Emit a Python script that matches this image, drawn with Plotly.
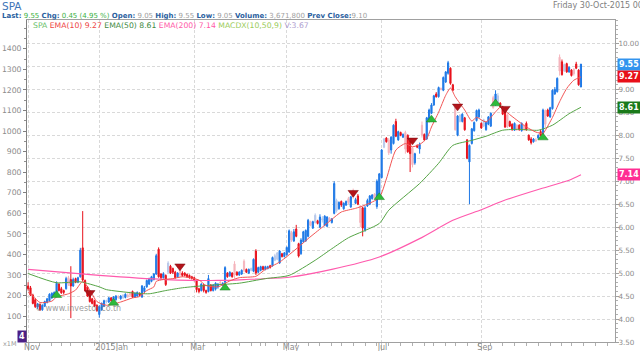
import pandas as pd
import plotly.graph_objects as go

# ---------------- calendar (SET trading days) ----------------
holidays = ["2014-12-05", "2014-12-10", "2014-12-31", "2015-01-01", "2015-01-02",
            "2015-03-04", "2015-04-06", "2015-04-13", "2015-04-14", "2015-04-15",
            "2015-05-01", "2015-05-05", "2015-06-01", "2015-07-30", "2015-08-12",
            "2015-10-23"]
trade_days = [d.strftime("%Y-%m-%d") for d in pd.bdate_range("2014-11-17", "2015-10-30")
              if d.strftime("%Y-%m-%d") not in holidays]

# ---------------- daily OHLC ----------------
opens = ([4.72, 4.68, 4.52, 4.42, 4.26, 4.32, 4.20, 4.28, 4.36, 4.40] +
         [4.46, 4.50, 4.50, 4.76, 4.66, 4.62, 4.66, 4.90, 4.86, 4.72, 4.88, 4.80, 4.92, 5.55, 4.84, 4.70, 4.52, 4.44, 4.40, 4.30] +
         [4.10, 4.20, 4.28, 4.38, 4.37, 4.46, 4.40, 4.42, 4.48, 4.44, 4.46, 4.47, 4.52, 4.56, 4.60, 4.48, 4.50, 4.56, 4.48, 4.60] +
         [4.70, 4.76, 4.82, 4.86, 4.98, 5.52, 4.98, 4.90, 4.95, 5.02, 5.15, 5.10, 5.02, 4.92, 5.12, 5.00, 5.00, 4.97, 4.95, 4.92] +
         [4.90, 4.84, 4.66, 4.62, 4.74, 4.62, 4.60, 4.74, 4.62, 4.65, 4.70, 4.80, 4.74, 4.80, 5.00, 4.94, 5.00, 5.20, 5.02, 4.96, 4.98] +
         [5.26, 5.08, 5.00, 5.06, 5.04, 5.48, 5.02, 5.06, 5.14, 5.08, 5.10, 5.16, 5.16, 5.28, 5.30, 5.22, 5.42, 5.36] +
         [5.40, 5.46, 5.88, 5.70, 5.96, 5.64, 5.42, 5.68, 5.70, 5.80, 6.12, 5.98, 6.10, 6.14, 6.00, 6.16, 6.04, 6.02, 6.20] +
         [6.10, 6.30, 6.36, 6.40, 6.56, 6.40, 6.48, 6.62, 6.44, 6.80, 6.52, 6.68, 6.46, 6.42, 5.94, 6.46, 6.50, 6.62, 6.72, 6.45, 6.68] +
         [7.08, 7.74, 7.94, 7.90, 7.68, 7.82, 8.30, 7.90, 8.06, 7.96, 8.06, 8.00, 7.88, 7.72, 7.40, 7.78, 7.70, 8.22, 8.02, 7.92, 8.30, 8.48] +
         [8.66, 8.90, 8.84, 9.02, 8.98, 9.16, 9.35, 9.46, 9.10, 8.66, 8.00, 8.30, 8.30, 8.38, 7.90, 7.42, 7.82, 8.10, 8.32, 8.40] +
         [8.26, 8.20, 8.12, 8.24, 8.20, 8.82, 8.66, 8.68, 8.70, 8.62, 8.60, 8.44, 8.30, 8.24, 8.11, 8.22, 8.22, 8.10, 8.20, 8.26, 8.00, 7.92] +
         [7.86, 7.90, 7.94, 8.08, 8.04, 8.54, 8.55, 8.40, 8.58, 8.90, 8.95, 9.70, 9.60, 9.40, 9.56, 9.38, 9.42, 9.44, 9.55, 9.42, 9.05])
highs = ([4.80, 4.72, 4.55, 4.46, 4.35, 4.34, 4.32, 4.40, 4.46, 4.56] +
         [4.58, 4.60, 4.82, 4.78, 4.70, 4.64, 4.92, 4.94, 5.15, 4.90, 4.90, 4.92, 5.55, 6.35, 4.86, 4.72, 4.55, 4.46, 4.42, 4.32] +
         [4.30, 4.36, 4.42, 4.42, 4.48, 4.48, 4.50, 4.52, 4.52, 4.52, 4.54, 4.56, 4.56, 4.60, 4.62, 4.58, 4.60, 4.58, 4.74, 4.72] +
         [4.86, 4.90, 4.94, 5.00, 5.42, 5.56, 5.00, 5.02, 4.97, 5.26, 5.18, 5.12, 5.05, 5.02, 5.18, 5.04, 5.02, 4.99, 4.97, 4.94] +
         [4.92, 4.86, 4.68, 4.78, 4.76, 4.64, 4.96, 4.76, 4.76, 4.80, 4.78, 4.84, 4.80, 5.15, 5.02, 5.04, 5.02, 5.26, 5.04, 5.04, 5.08] +
         [5.30, 5.10, 5.10, 5.12, 5.32, 5.52, 5.14, 5.16, 5.16, 5.16, 5.16, 5.18, 5.36, 5.42, 5.46, 5.50, 5.44, 5.46] +
         [5.58, 5.95, 5.92, 5.96, 6.05, 5.66, 5.76, 5.92, 5.95, 6.18, 6.14, 6.14, 6.30, 6.16, 6.28, 6.24, 6.26, 6.24, 6.22] +
         [6.20, 7.00, 6.62, 6.56, 6.58, 6.54, 6.58, 6.66, 6.68, 6.84, 6.64, 6.72, 6.48, 6.44, 6.46, 6.62, 6.70, 6.72, 6.74, 7.04, 7.18] +
         [7.70, 7.94, 7.96, 7.94, 7.98, 8.24, 8.36, 8.10, 8.08, 8.04, 8.10, 8.02, 7.90, 7.74, 7.62, 7.80, 7.84, 8.30, 8.04, 8.40, 8.58, 8.70] +
         [8.88, 8.94, 9.06, 9.04, 9.28, 9.40, 9.62, 9.48, 9.12, 8.68, 8.44, 8.46, 8.48, 8.40, 7.92, 7.80, 8.16, 8.30, 8.56, 8.58] +
         [8.28, 8.36, 8.30, 8.42, 8.50, 8.86, 8.98, 8.92, 8.72, 8.64, 8.62, 8.46, 8.32, 8.26, 8.28, 8.24, 8.24, 8.28, 8.24, 8.30, 8.02, 7.96] +
         [7.94, 7.94, 8.02, 8.12, 8.58, 8.56, 8.58, 8.62, 9.00, 9.05, 9.26, 9.76, 9.65, 9.56, 9.58, 9.50, 9.44, 9.46, 9.60, 9.44, 9.55])
lows = ([4.62, 4.50, 4.32, 4.24, 4.22, 4.18, 4.18, 4.26, 4.34, 4.38] +
        [4.44, 4.48, 4.48, 4.60, 4.55, 4.54, 4.64, 4.72, 4.02, 4.70, 4.78, 4.78, 4.90, 4.82, 4.60, 4.48, 4.36, 4.32, 4.26, 4.16] +
        [4.03, 4.18, 4.26, 4.34, 4.35, 4.38, 4.38, 4.40, 4.44, 4.42, 4.44, 4.45, 4.46, 4.48, 4.46, 4.46, 4.48, 4.50, 4.46, 4.56] +
        [4.68, 4.74, 4.80, 4.84, 4.96, 4.90, 4.86, 4.88, 4.72, 5.00, 4.98, 4.98, 4.88, 4.90, 4.92, 4.92, 4.93, 4.90, 4.88, 4.86] +
        [4.82, 4.58, 4.56, 4.60, 4.58, 4.55, 4.58, 4.60, 4.60, 4.62, 4.66, 4.74, 4.72, 4.78, 4.90, 4.92, 4.90, 4.88, 4.94, 4.94, 4.96] +
        [5.02, 5.00, 4.98, 5.04, 5.02, 4.96, 5.00, 5.04, 5.06, 5.06, 5.08, 5.10, 5.14, 5.26, 5.28, 5.20, 5.34, 5.34] +
        [5.38, 5.44, 5.68, 5.68, 5.78, 5.34, 5.40, 5.66, 5.68, 5.78, 6.02, 5.96, 6.08, 6.06, 5.98, 6.10, 6.02, 6.00, 6.12] +
        [6.08, 6.28, 6.32, 6.38, 6.44, 6.38, 6.46, 6.50, 6.42, 6.62, 6.50, 6.48, 6.00, 5.80, 5.90, 6.44, 6.48, 6.60, 6.62, 6.40, 6.64] +
        [7.06, 7.72, 7.84, 7.57, 7.60, 7.80, 7.96, 7.88, 7.98, 7.94, 7.60, 7.62, 7.20, 7.30, 7.36, 7.72, 7.60, 7.95, 7.88, 7.90, 8.28, 8.46] +
        [8.64, 8.82, 8.82, 8.98, 8.96, 9.14, 9.32, 9.10, 8.96, 8.10, 7.98, 8.28, 8.28, 8.10, 7.48, 6.50, 7.80, 8.08, 8.30, 8.38] +
        [8.14, 8.18, 8.10, 8.22, 8.18, 8.58, 8.64, 8.66, 8.60, 8.44, 8.16, 8.16, 8.18, 8.10, 8.10, 8.10, 8.10, 8.08, 8.10, 8.10, 7.88, 7.80] +
        [7.84, 7.86, 7.92, 7.98, 8.02, 8.18, 8.40, 8.38, 8.56, 8.88, 8.93, 9.30, 9.30, 9.38, 9.36, 9.36, 9.28, 9.30, 9.44, 9.08, 9.05])
closes = ([4.66, 4.52, 4.34, 4.27, 4.33, 4.20, 4.30, 4.38, 4.44, 4.54] +
          [4.56, 4.58, 4.78, 4.62, 4.57, 4.58, 4.88, 4.76, 4.72, 4.86, 4.80, 4.90, 5.50, 4.85, 4.62, 4.50, 4.38, 4.34, 4.28, 4.18] +
          [4.27, 4.34, 4.40, 4.40, 4.46, 4.40, 4.48, 4.50, 4.47, 4.50, 4.52, 4.54, 4.49, 4.52, 4.48, 4.56, 4.58, 4.52, 4.72, 4.68] +
          [4.84, 4.88, 4.92, 4.98, 5.38, 4.92, 4.90, 4.98, 4.75, 5.22, 5.00, 5.02, 4.90, 5.00, 4.96, 4.95, 4.95, 4.92, 4.90, 4.88] +
          [4.84, 4.64, 4.60, 4.76, 4.62, 4.58, 4.88, 4.62, 4.74, 4.78, 4.76, 4.78, 4.78, 5.12, 4.92, 5.02, 4.92, 4.96, 4.96, 5.02, 5.06] +
          [5.06, 5.02, 5.08, 5.10, 5.30, 5.00, 5.12, 5.14, 5.08, 5.14, 5.14, 5.12, 5.34, 5.38, 5.44, 5.48, 5.36, 5.44] +
          [5.56, 5.92, 5.72, 5.90, 5.80, 5.37, 5.72, 5.90, 5.93, 6.15, 6.04, 6.12, 6.26, 6.08, 6.22, 6.18, 6.24, 6.22, 6.14] +
          [6.18, 6.95, 6.58, 6.54, 6.48, 6.52, 6.56, 6.54, 6.66, 6.66, 6.60, 6.50, 6.10, 5.98, 6.42, 6.58, 6.68, 6.70, 6.64, 7.00, 7.16] +
          [7.68, 7.92, 7.86, 7.62, 7.96, 8.22, 7.98, 8.08, 8.00, 8.02, 7.70, 7.64, 7.60, 7.36, 7.60, 7.74, 7.80, 8.00, 7.90, 8.38, 8.55, 8.66] +
          [8.86, 8.84, 9.04, 9.00, 9.26, 9.38, 9.58, 9.13, 8.98, 8.12, 8.42, 8.44, 8.46, 8.12, 7.50, 7.78, 8.14, 8.28, 8.54, 8.55] +
          [8.16, 8.34, 8.28, 8.40, 8.48, 8.60, 8.90, 8.86, 8.62, 8.46, 8.18, 8.18, 8.20, 8.12, 8.26, 8.12, 8.12, 8.26, 8.12, 8.12, 7.90, 7.84] +
          [7.92, 7.88, 8.00, 8.00, 8.55, 8.24, 8.42, 8.60, 8.98, 9.00, 9.24, 9.40, 9.32, 9.54, 9.38, 9.48, 9.30, 9.34, 9.46, 9.10, 9.55])

# days drawn as faded candles
faded_days = ["2014-12-12", "2015-01-08", "2015-01-15", "2015-01-19", "2015-01-21", "2015-01-22",
              "2015-02-13", "2015-02-20", "2015-03-18", "2015-03-26", "2015-04-01", "2015-04-07",
              "2015-04-24", "2015-04-27", "2015-05-07", "2015-05-19", "2015-05-21", "2015-05-26",
              "2015-05-29", "2015-06-04", "2015-06-11", "2015-06-15", "2015-06-18", "2015-06-26",
              "2015-07-02", "2015-07-06", "2015-07-15", "2015-07-20", "2015-07-24", "2015-08-06",
              "2015-08-17", "2015-08-19", "2015-09-02", "2015-09-08", "2015-09-10", "2015-09-16",
              "2015-09-22", "2015-09-25", "2015-10-02", "2015-10-08", "2015-10-16", "2015-10-20",
              "2015-10-27"]

# ---------------- moving averages ----------------
ema10_dates = ["2014-11-17", "2014-11-19", "2014-11-24", "2014-12-01", "2014-12-03", "2014-12-12",
               "2014-12-17", "2014-12-22", "2014-12-25", "2014-12-30", "2015-01-08", "2015-01-16",
               "2015-01-23", "2015-01-28", "2015-02-02", "2015-02-05", "2015-02-06", "2015-02-11",
               "2015-02-17", "2015-02-23", "2015-02-26", "2015-03-05", "2015-03-10", "2015-03-17",
               "2015-03-24", "2015-03-30", "2015-04-09", "2015-04-20", "2015-04-28", "2015-05-12",
               "2015-05-18", "2015-05-26", "2015-06-02", "2015-06-08", "2015-06-16", "2015-06-22",
               "2015-06-30", "2015-07-03", "2015-07-09", "2015-07-15", "2015-07-20", "2015-07-23",
               "2015-07-28", "2015-07-31", "2015-08-05", "2015-08-10", "2015-08-13", "2015-08-17",
               "2015-08-21", "2015-08-26", "2015-08-28", "2015-09-03", "2015-09-09", "2015-09-11",
               "2015-09-16", "2015-09-22", "2015-09-28", "2015-10-02", "2015-10-07", "2015-10-08",
               "2015-10-13", "2015-10-16", "2015-10-21", "2015-10-27", "2015-10-30"]
ema10 = [4.58, 4.50, 4.36, 4.39, 4.48, 4.55, 4.63, 4.82, 4.63, 4.38, 4.30, 4.37,
         4.46, 4.49, 4.62, 4.70, 4.82, 4.86, 4.88, 4.92, 4.90, 4.85, 4.73, 4.70,
         4.83, 4.90, 4.93, 5.08, 5.24, 5.57, 5.75, 6.00, 6.17, 6.33, 6.41, 6.48,
         6.64, 7.05, 7.68, 7.82, 7.75, 7.80, 7.93, 8.18, 8.50, 8.87, 9.03, 8.84,
         8.55, 8.31, 8.39, 8.29, 8.51, 8.61, 8.49, 8.33, 8.18, 8.07, 8.04, 8.11,
         8.39, 8.73, 9.02, 9.20, 9.27]

ema50_dates = ["2014-11-17", "2014-12-03", "2014-12-19", "2015-01-05", "2015-01-08", "2015-01-23",
               "2015-02-03", "2015-02-12", "2015-02-23", "2015-03-10", "2015-03-30", "2015-04-20",
               "2015-05-06", "2015-05-21", "2015-06-02", "2015-06-11", "2015-06-30", "2015-07-06",
               "2015-07-23", "2015-08-05", "2015-08-14", "2015-08-26", "2015-09-03", "2015-09-14",
               "2015-09-23", "2015-10-05", "2015-10-13", "2015-10-22", "2015-10-30"]
ema50 = [4.99, 4.79, 4.81, 4.70, 4.64, 4.57, 4.55, 4.62, 4.68, 4.73, 4.78, 4.88,
         4.95, 5.28, 5.53, 5.77, 6.08, 6.37, 6.95, 7.39, 7.78, 7.89, 7.98, 8.11,
         8.13, 8.11, 8.22, 8.47, 8.61]

ema200_dates = ["2014-11-17", "2015-01-05", "2015-02-12", "2015-03-17", "2015-04-01", "2015-05-06",
                "2015-06-02", "2015-06-30", "2015-07-23", "2015-08-14", "2015-09-01", "2015-09-14",
                "2015-10-05", "2015-10-22", "2015-10-30"]
ema200 = [5.08, 4.95, 4.86, 4.84, 4.86, 4.91, 5.08, 5.35, 5.75, 6.15, 6.38, 6.57,
          6.82, 7.02, 7.14]

# ---------------- signals ----------------
buy_dates = ["2014-12-03", "2015-01-13", "2015-03-20", "2015-06-30", "2015-07-31", "2015-09-09", "2015-10-07"]
buy_prices = [4.52, 4.35, 4.68, 6.65, 8.34, 8.69, 7.95]
sell_dates = ["2014-12-25", "2015-02-20", "2015-06-15", "2015-07-20", "2015-08-18", "2015-09-15"]
sell_prices = [4.57, 5.15, 6.75, 7.89, 8.63, 8.58]

# ---------------- axis labels ----------------
month_ticks = ["2014-11-17", "2015-01-05", "2015-03-02", "2015-05-04", "2015-07-01", "2015-09-01"]
month_labels = ["Nov", "2015Jan", "Mar", "May", "Jul", "Sep"]
left_ticks = [100, 200, 300, 400, 500, 600, 700, 800, 900, 1000, 1100, 1200, 1300, 1400]
right_ticks = [3.5, 4.0, 4.5, 5.0, 5.5, 6.0, 6.5, 7.0, 7.5, 8.0, 8.5, 9.0, 9.5, 10.0]
last_values = {"close": 9.55, "ema10": 9.27, "ema50": 8.61, "ema200": 7.14}

assert len(trade_days) == len(opens) == len(highs) == len(lows) == len(closes)

# ---------------- figure ----------------
W, H = 640, 351
L, R, T, B = 27, 25, 20, 9
PW, PH = W - L - R, H - T - B


def px(x):
    return (x - L) / PW


def py(y):
    return (H - B - y) / PH


def candles(sel, up, down):
    idx = [k for k, d in enumerate(trade_days) if sel(d)]
    return go.Candlestick(
        x=[trade_days[k] for k in idx], open=[opens[k] for k in idx],
        high=[highs[k] for k in idx], low=[lows[k] for k in idx],
        close=[closes[k] for k in idx],
        increasing=dict(line=dict(color=up, width=1), fillcolor=up),
        decreasing=dict(line=dict(color=down, width=1), fillcolor=down),
        whiskerwidth=0, showlegend=False, hoverinfo="skip")


fig = go.Figure()
fig.add_trace(go.Scatter(x=[trade_days[0]], y=[None], yaxis="y2", showlegend=False, hoverinfo="skip"))
fig.add_trace(go.Scatter(x=ema200_dates, y=ema200, mode="lines", line=dict(color="#ff5aad", width=1.2, shape="spline", smoothing=0.6), hoverinfo="skip"))
fig.add_trace(go.Scatter(x=ema50_dates, y=ema50, mode="lines", line=dict(color="#55a445", width=1, shape="spline", smoothing=0.6), hoverinfo="skip"))
fig.add_trace(candles(lambda d: d in faded_days, "#b9c9ea", "#f5b5bd"))
fig.add_trace(candles(lambda d: d not in faded_days, "#1e78e6", "#e8121c"))
fig.add_trace(go.Scatter(x=ema10_dates, y=ema10, mode="lines", line=dict(color="#f25555", width=1, shape="spline", smoothing=0.6), hoverinfo="skip"))
fig.add_trace(go.Scatter(x=buy_dates, y=buy_prices, mode="markers", marker=dict(symbol="triangle-up", size=9, color="#2dbb3a", line=dict(color="#1a7a22", width=0.5)), hoverinfo="skip"))
fig.add_trace(go.Scatter(x=sell_dates, y=sell_prices, mode="markers", marker=dict(symbol="triangle-down", size=9, color="#b3141a", line=dict(color="#7a0a0e", width=0.5)), hoverinfo="skip"))

axis_font = dict(family="DejaVu Sans", size=7.7, color="#8c8c8c")
grid = dict(showgrid=True, gridcolor="#d9d9d9", griddash="3px,2px", gridwidth=1)

fig.update_layout(
    width=W, height=H, margin=dict(l=L, r=R, t=T, b=B, autoexpand=False),
    paper_bgcolor="white", plot_bgcolor="white", showlegend=False,
    xaxis=dict(type="date", range=["2014-11-14 12:40", "2015-11-19 08:24"], automargin=False,
               rangebreaks=[dict(bounds=["sat", "mon"]), dict(values=holidays)],
               tickmode="array", tickvals=month_ticks, ticktext=month_labels,
               ticks="outside", ticklen=9, tickcolor="#c8c8c8",
               ticklabelposition="outside right", ticklabelstandoff=-3, ticklabelshift=-5,
               tickfont=dict(family="DejaVu Sans", size=8, color="#8c8c8c"),
               showline=True, linecolor="#a0a0a0", mirror=True,
               zeroline=False, rangeslider=dict(visible=False),
               minor=dict(ticks="outside", ticklen=3, tickcolor="#b0b0b0", dtick=7 * 86400000,
                          tick0="2014-11-17", showgrid=False),
               **grid),
    yaxis=dict(side="right", range=[3.5, 10.51], tickmode="array", tickvals=right_ticks, automargin=False,
               tickformat=".2f", ticks="outside", ticklen=3, tickcolor="#a0a0a0", ticklabelstandoff=-2,
               tickfont=dict(family="DejaVu Sans", size=7.2, color="#8c8c8c"),
               showline=True, linecolor="#a0a0a0", zeroline=False,
               minor=dict(ticks="outside", ticklen=2, tickcolor="#b0b0b0", dtick=0.1, showgrid=False),
               **grid),
    yaxis2=dict(overlaying="y", side="left", range=[-26, 1540], tickmode="array", automargin=False,
                tickvals=left_ticks, ticks="outside", ticklen=3, tickcolor="#808080",
                tickfont=axis_font, showline=True, linecolor="#808080", showgrid=False,
                zeroline=False,
                minor=dict(ticks="outside", ticklen=2, tickcolor="#909090", dtick=50, tick0=50)),
)

ann = []
ann.append(dict(x=px(0), y=py(5.5), text="SPA", font=dict(family="DejaVu Sans", size=10.5, color="#3d74b8")))
lab = "color:#2b5fa0;font-weight:bold"
info = ("<span style='%s'>Last:</span> <span style='color:#3bb143'>9.55</span> "
        "<span style='%s'>Chg:</span> <span style='color:#3bb143'>0.45 (4.95 %%)</span> "
        "<span style='%s'>Open:</span> <span style='color:#a0a0a0'>9.05</span> "
        "<span style='%s'>High:</span> <span style='color:#a0a0a0'>9.55</span> "
        "<span style='%s'>Low:</span> <span style='color:#a0a0a0'>9.05</span> "
        "<span style='%s'>Volume:</span> <span style='color:#a0a0a0'>3,671,800</span> "
        "<span style='%s'>Prev Close:</span><span style='color:#a0a0a0'>9.10</span>") % ((lab,) * 7)
ann.append(dict(x=px(0), y=py(15.5), text=info, font=dict(family="DejaVu Sans", size=7, color="#a0a0a0")))
ann.append(dict(x=px(551), y=py(5), text="Friday 30-Oct-2015 00:00", font=dict(family="DejaVu Sans", size=8, color="#808080")))
legend = ("<span style='color:#6bbf6b'>SPA</span> "
          "<span style='color:#ee4444'>EMA(10) %.2f</span> "
          "<span style='color:#3f8a3f'>EMA(50) %.2f</span> "
          "<span style='color:#ff5aa8'>EMA(200) %.2f</span> "
          "<span style='color:#9acb5a'>MACDX(10,50,9)</span> "
          "<span style='color:#b0a0d0'>V:3.67</span>") % (last_values["ema10"], last_values["ema50"], last_values["ema200"])
ann.append(dict(x=px(31), y=py(25.5), text=legend, font=dict(family="DejaVu Sans", size=7.7)))
ann.append(dict(x=px(33), y=py(308), text="© www.investor.co.th", font=dict(family="DejaVu Sans", size=8, color="rgba(120,120,120,0.75)")))
ann.append(dict(x=px(1), y=py(344), text="x1M", font=dict(family="DejaVu Sans", size=6.5, color="#999999")))
ann.append(dict(x=px(17), y=py(336.5), text="<b>4</b>", bgcolor="#4b1f86", borderpad=1,
                font=dict(family="DejaVu Sans", size=8, color="white")))
for k, c in [("close", "#3394ee"), ("ema10", "#e8101a"), ("ema50", "#1a7a1a"), ("ema200", "#ff2e93")]:
    ann.append(dict(x=1, y=last_values[k], yref="y", xshift=2, text="<b>%.2f</b>" % last_values[k],
                    bgcolor=c, borderpad=1, font=dict(family="DejaVu Sans", size=8, color="white")))
for a in ann:
    a.setdefault("xref", "paper")
    a.setdefault("yref", "paper")
    a.update(xanchor="left", yanchor="middle", showarrow=False)
fig.update_layout(annotations=ann)

fig.write_html("out.html")
